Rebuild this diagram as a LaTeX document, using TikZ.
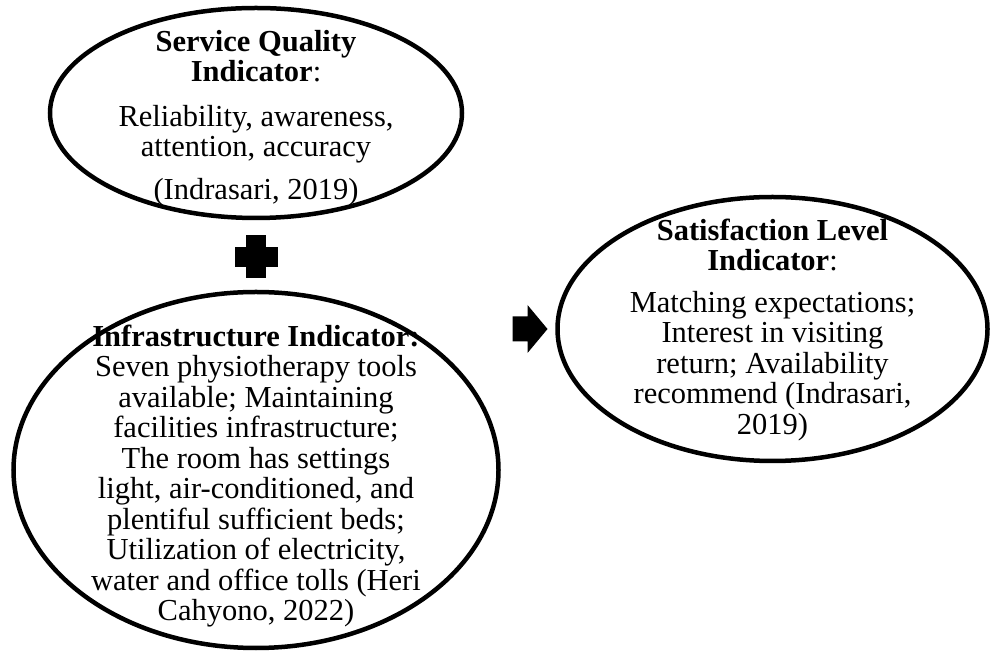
\documentclass[tikz,border=0pt]{standalone}
\usepackage{fontspec}
\setmainfont{Liberation Serif}
\usepackage{tikz}
\usetikzlibrary{shapes,arrows}
\tikzstyle{elips} = [ellipse, draw, line width=4.5pt, inner sep=0pt]
\tikzstyle{teks} = [align=center, font=\fontsize{30.5}{30.5}\selectfont, inner sep=0pt]
\tikzstyle{simbol} = [fill=black]

\begin{document}
\begin{tikzpicture}[x=1pt, y=1pt, node distance=144pt]
\useasboundingbox (0,0) rectangle (990,653);
\node [elips, minimum width=412pt, minimum height=210pt] (layanan) at (256,540) {};
\coordinate [below of=layanan] (tambah);
\node [elips, minimum width=485pt, minimum height=356pt, below of=layanan, node distance=357pt] (sarana) {};
\node [elips, minimum width=430pt, minimum height=264pt] (kepuasan) at (772.5,324) {};
\coordinate [left of=kepuasan, node distance=242pt] (panah);

\node [teks, yshift=-5pt] (isilayanan) at (layanan) {\textbf{Service Quality}\\ \textbf{Indicator}:\\[14pt] Reliability, awareness,\\ attention, accuracy\\[12pt] (Indrasari, 2019)};
\node [teks, yshift=-6pt] (isisarana) at (sarana) {\textbf{Infrastructure Indicator:}\\ Seven physiotherapy tools\\ available; Maintaining\\ facilities infrastructure;\\ The room has settings\\ light, air-conditioned, and\\ plentiful sufficient beds;\\ Utilization of electricity,\\ water and office tolls (Heri\\ Cahyono, 2022)};
\node [teks, yshift=-1pt] (isikepuasan) at (kepuasan) {\textbf{Satisfaction Level}\\ \textbf{Indicator}:\\[11pt] Matching expectations;\\ Interest in visiting\\ return; Availability\\ recommend (Indrasari,\\ 2019)};

\path[simbol] (tambah) ++(-10,-21.5) rectangle ++(20,43);
\path[simbol] (tambah) ++(-21.5,-10) rectangle ++(43,20);
\path[simbol] (panah) ++(-18,-12.5) -- ++(15,0) -- ++(0,-11.5) -- ++(20,24) -- ++(-20,24) -- ++(0,-11.5) -- ++(-15,0) -- cycle;
\end{tikzpicture}
\end{document}
